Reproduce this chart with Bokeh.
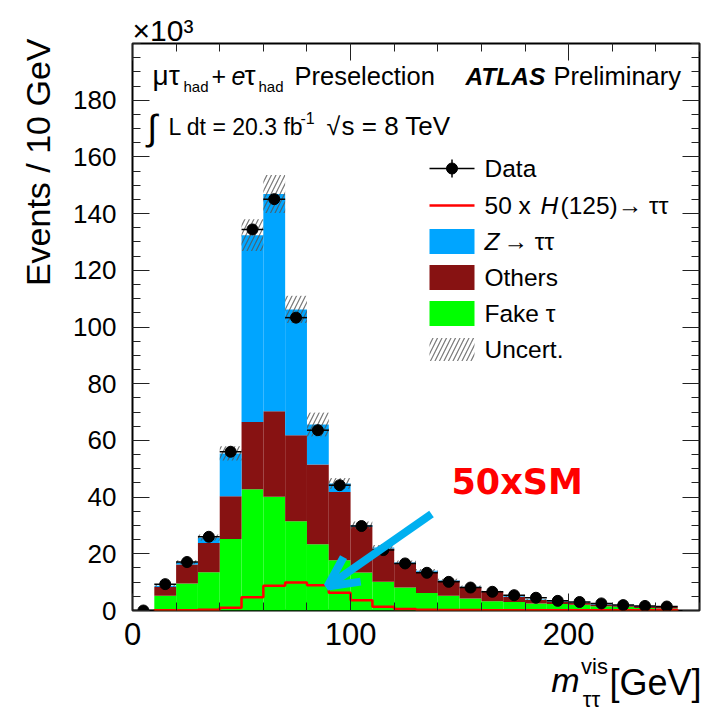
import numpy as np
from bokeh.plotting import figure
from bokeh.models import Label, Arrow, OpenHead, FixedTicker, LinearAxis, Range1d, Title
from bokeh.embed import file_html
from bokeh.resources import INLINE

# ---------------- data (events in thousands per 10 GeV bin) ----------------
bin_low = [10, 20, 30, 40, 50, 60, 70, 80, 90, 100, 110, 120,
           130, 140, 150, 160, 170, 180, 190, 200, 210, 220, 230, 240]
fake_tau = [5.2, 9.5, 13.5, 25.2, 42.8, 40.1, 31.5, 23.4, 17.7, 13.4, 10.1, 8.1,
            6.2, 5.2, 4.2, 3.3, 3.0, 2.5, 2.3, 2.0, 1.5, 1.3, 0.9, 0.7]
others = [3.1, 6.7, 10.3, 15.1, 23.7, 30.2, 30.3, 28.1, 24.1, 16.1, 11.8, 8.5,
          7.5, 5.3, 4.0, 3.2, 1.8, 1.2, 0.9, 0.7, 0.6, 0.5, 0.6, 0.6]
z_tautau = [0.4, 0.8, 1.9, 15.1, 65.9, 76.6, 44.4, 14.1, 3.0, 0.6, 0.3, 0.3,
            0.3, 0.2, 0.2, 0.2, 0.2, 0.2, 0.2, 0.2, 0.2, 0.1, 0.1, 0.1]
uncert = [0.4, 0.7, 1.1, 2.5, 5.6, 6.7, 4.8, 4.2, 1.9, 1.3, 0.9, 0.7,
          0.6, 0.5, 0.4, 0.3, 0.2, 0.2, 0.15, 0.13, 0.1, 0.08, 0.07, 0.06]
higgs_x50 = [0.1, 0.1, 0.3, 1.0, 4.7, 8.7, 9.9, 8.9, 6.3, 3.6, 1.3, 0.5,
             0.3, 0.2, 0.2, 0.1, 0.1, 0.1, 0.1, 0.1, 0.1, 0.05, 0.05, 0.05]
data_x = [5, 15, 25, 35, 45, 55, 65, 75, 85, 95, 105, 115, 125,
          135, 145, 155, 165, 175, 185, 195, 205, 215, 225, 235, 245]
data_y = [0.0, 9.3, 17.1, 26.0, 56.0, 134.4, 145.1, 103.3, 63.6, 44.2, 29.8, 21.3, 16.6,
          13.3, 10.1, 8.1, 6.6, 5.4, 4.5, 3.4, 3.0, 2.5, 1.9, 1.6, 1.4]
bin_width = 10
x_ticks = [0, 100, 200]
y_ticks = [0, 20, 40, 60, 80, 100, 120, 140, 160, 180]

# ---------------- colours ----------------
C_Z = "#00a5ff"
C_OTH = "#871212"
C_FAKE = "#00ff00"
C_H = "#ff0000"
FONT = "Liberation Sans"

# ---------------- layout (picture pixels) ----------------
FL, FT, FW, FH = 132, 43, 567, 567
XMAX, YMAX = 260, 200


def X(px):
    return (px - FL) / FW * XMAX


def Y(py):
    return (FT + FH - py) / FH * YMAX


p = figure(frame_width=FW, frame_height=FH,
           x_range=Range1d(0, XMAX), y_range=Range1d(0, YMAX),
           output_backend="svg", toolbar_location=None,
           min_border_left=FL, min_border_right=706 - FL - FW,
           min_border_top=FT, min_border_bottom=711 - FT - FH)
p.xgrid.visible = False
p.ygrid.visible = False
p.outline_line_color = "black"
p.outline_line_width = 2
p.background_fill_color = "white"
p.border_fill_color = "white"

xt = FixedTicker(ticks=x_ticks, minor_ticks=list(range(0, 261, 20)))
yt = FixedTicker(ticks=y_ticks, minor_ticks=list(range(0, 201, 5)))


def style_axis(ax, fs, show):
    ax.axis_line_color = None
    ax.major_tick_in = 17
    ax.major_tick_out = 0
    ax.minor_tick_in = 8
    ax.minor_tick_out = 0
    ax.major_tick_line_color = "#222222"
    ax.minor_tick_line_color = "#222222"
    ax.major_tick_line_width = 1
    ax.minor_tick_line_width = 1
    ax.major_label_text_font = FONT
    if show:
        ax.major_label_text_font_size = fs
        ax.major_label_text_color = "black"
    else:
        ax.major_label_text_font_size = "1px"
        ax.major_label_text_color = None
        ax.major_label_standoff = 0


p.xaxis.ticker = xt
p.yaxis.ticker = yt
style_axis(p.xaxis[0], "31px", True)
style_axis(p.yaxis[0], "26px", True)
p.xaxis[0].major_label_standoff = 12
p.yaxis[0].major_label_standoff = 16

top_ax = LinearAxis(ticker=xt)
right_ax = LinearAxis(ticker=yt)
style_axis(top_ax, "1px", False)
style_axis(right_ax, "1px", False)
p.add_layout(top_ax, "above")
p.add_layout(right_ax, "right")

# ---------------- stacked histogram ----------------
lo = np.array(bin_low, dtype=float)
hi = lo + bin_width
f = np.array(fake_tau)
o = np.array(others)
z = np.array(z_tautau)
tot = f + o + z
u = np.array(uncert)

p.quad(left=lo, right=hi, bottom=0, top=f, fill_color=C_FAKE, line_color=None)
p.quad(left=lo, right=hi, bottom=f, top=f + o, fill_color=C_OTH, line_color=None)
p.quad(left=lo, right=hi, bottom=f + o, top=tot, fill_color=C_Z, line_color=None)
p.quad(left=lo, right=hi, bottom=tot - u, top=tot + u, fill_color=None, line_color=None,
       hatch_pattern="/", hatch_color="#555555", hatch_scale=9, hatch_weight=1.2, hatch_alpha=0.8)

# Higgs x50 step line
h = np.array(higgs_x50)
sx = np.repeat(np.append(lo, hi[-1]), 2)
sy = np.concatenate([[0], np.repeat(h, 2), [0]])
p.line(sx, sy, line_color=C_H, line_width=2.5)

# data
dx = np.array(data_x, dtype=float)
dy = np.array(data_y)
p.segment(x0=dx - bin_width / 2, x1=dx + bin_width / 2, y0=dy, y1=dy, line_color="black", line_width=1.5)
p.scatter(dx, dy, size=11, color="black")

# ---------------- annotations inside the frame ----------------
BASE_SHIFT = 0.37  # rendered baseline sits this many font-sizes below the anchor


def lab(text, px, py, size, style="normal", color="black", font=FONT, **kw):
    py = py - BASE_SHIFT * size
    p.add_layout(Label(x=X(px), y=Y(py), text=text, text_font=font, text_font_size=f"{size}px",
                       text_font_style=style, text_color=color, text_baseline="alphabetic", **kw))


# header line 1
lab("\u03bc\u03c4", 152, 85, 28)
lab("had", 183, 92, 15)
lab("+", 211, 85, 25)
lab("e", 231, 85, 25, "italic")
lab("\u03c4", 244, 85, 28)
lab("had", 258, 92, 15)
lab("Preselection", 294, 85, 25.5)
lab("ATLAS", 465, 85, 24.5, "bold italic")
lab("Preliminary", 553, 85, 25.5)
# header line 2
lab("\u222b", 147, 140, 36)
lab("L dt = 20.3 fb", 168, 135, 23)
lab("-1", 300, 123, 16)
lab("\u221a", 326, 135, 25)
lab("s = 8 TeV", 341, 135, 26)

# legend
LX0, LX1, TX = 429, 474, 484
rows = [168, 205, 241, 277, 313, 349]
LXC = (LX0 + LX1) / 2
p.segment(x0=[X(LX0), X(LXC)], x1=[X(LX1), X(LXC)],
          y0=[Y(rows[0]), Y(rows[0] - 9)], y1=[Y(rows[0]), Y(rows[0] + 9)], line_color="black", line_width=1.5)
p.scatter([X(LXC)], [Y(rows[0])], size=11, color="black")
p.segment(x0=[X(LX0)], x1=[X(LX1)], y0=[Y(rows[1])], y1=[Y(rows[1])], line_color=C_H, line_width=2.5)
for r, c in zip(rows[2:5], [C_Z, C_OTH, C_FAKE]):
    p.quad(left=[X(LX0)], right=[X(LX1)], bottom=[Y(r + 12.5)], top=[Y(r - 12.5)], fill_color=c, line_color=None)
p.quad(left=[X(LX0)], right=[X(LX1)], bottom=[Y(rows[5] + 11.5)], top=[Y(rows[5] - 11.5)], fill_color=None,
       line_color=None, hatch_pattern="/", hatch_color="#555555", hatch_scale=9, hatch_weight=1.2, hatch_alpha=0.8)
LS = 24.5
lab("Data", TX, rows[0] + 9, LS)
lab("50 x", TX, rows[1] + 9, LS)
lab("H", 540, rows[1] + 9, LS, "italic")
lab("(125)\u2192 \u03c4\u03c4", 560, rows[1] + 9, LS)
lab("Z", TX, rows[2] + 9, LS, "italic")
lab("\u2192 \u03c4\u03c4", 503, rows[2] + 9, LS)
lab("Others", TX, rows[3] + 9, LS)
lab("Fake \u03c4", TX, rows[4] + 9, LS)
lab("Uncert.", TX, rows[5] + 9, LS)

# 50xSM annotation and arrow
lab("50xSM", 451, 494, 35, "bold", "#ff0000", font="DejaVu Sans")
p.add_layout(Arrow(x_start=X(431), y_start=Y(513.5), x_end=X(327), y_end=Y(586),
                   line_color="#00b0f0", line_width=8,
                   end=OpenHead(size=30, line_color="#00b0f0", line_width=8)))

# ---------------- texts outside the frame (side panels) ----------------
p.add_layout(Title(text="\u00d710\u00b3", align="left", offset=0, standoff=-7, text_color="black",
                   text_font=FONT, text_font_size="30px", text_font_style="normal"), "above")
p.add_layout(Title(text="Events / 10 GeV", align="right", vertical_align="bottom", offset=-5, standoff=28,
                   text_color="black", text_font=FONT, text_font_size="34px", text_font_style="normal"), "left")


def text_axis(text, px_center, fs, standoff, style="normal"):
    xc = X(px_center)
    ax = LinearAxis(ticker=FixedTicker(ticks=[xc], minor_ticks=[]), major_label_overrides={xc: text})
    ax.axis_line_color = None
    ax.major_tick_line_color = None
    ax.minor_tick_line_color = None
    ax.major_tick_in = 0
    ax.major_tick_out = 0
    ax.minor_tick_in = 0
    ax.minor_tick_out = 0
    ax.major_label_standoff = standoff
    ax.major_label_text_font = FONT
    ax.major_label_text_font_size = f"{fs}px"
    ax.major_label_text_font_style = style
    ax.major_label_text_color = "black"
    p.add_layout(ax, "below")


text_axis("vis", 594, 22, 6)
text_axis("m", 565, 34, -21, "italic")
text_axis("[GeV]", 655, 36, -40)
text_axis("\u03c4\u03c4", 591, 22, -19)

open("out.html", "w").write(file_html(p, INLINE))
